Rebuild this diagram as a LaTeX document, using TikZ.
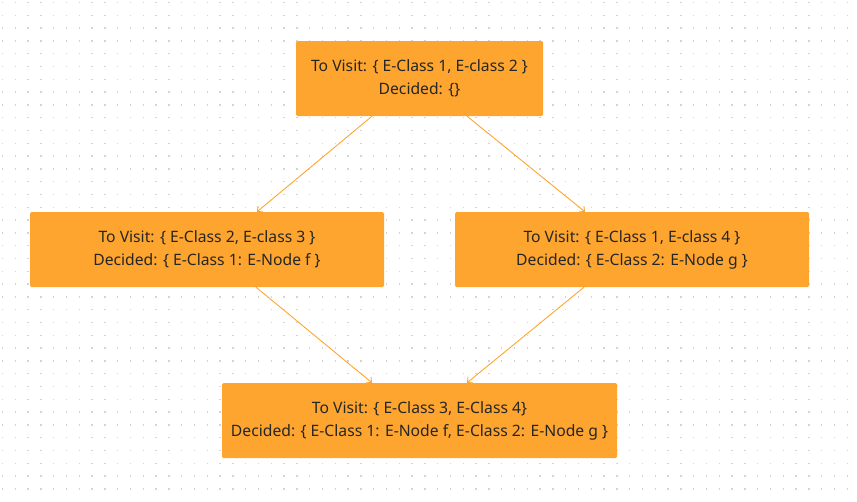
\documentclass[tikz,border=0pt]{standalone}
\usepackage{fontspec}
\setmainfont{Noto Sans}
\usetikzlibrary{positioning,arrows.meta}
\definecolor{boxorange}{HTML}{FEA530}
\definecolor{boxtext}{HTML}{262626}
\definecolor{griddot}{HTML}{D4D4D4}

\begin{document}
\begin{tikzpicture}[
  x=1pt, y=-1pt,
  block/.style={rectangle, rounded corners=1.5pt, fill=boxorange, text=boxtext, minimum height=75pt, align=center, font=\fontsize{15.7}{23}\selectfont, inner sep=0pt},
  arrow/.style={-{Straight Barb[length=4pt,width=8pt]}, draw=boxorange, line width=0.9pt}
]
\useasboundingbox (0,0) rectangle (857,501);

% Dot grid
\foreach \i in {0,...,66}
  \foreach \j in {0,...,38}
    \fill[griddot] (2.5+12.8*\i-0.75,2.5+12.8*\j-0.75) rectangle ++(1.5,1.5);

% Top row
\node[block, minimum width=247pt] (start) at (419.5,78.5) {To Visit: \{ E-Class 1, E-class 2 \}\\Decided: \{\}};

% Middle row
\node[block, minimum width=354pt] (pickf) at (207,249.5) {To Visit: \{ E-Class 2, E-class 3 \}\\Decided: \{ E-Class 1: E-Node f \}};
\node[block, minimum width=354pt] (pickg) at (632,249.5) {To Visit: \{ E-Class 1, E-class 4 \}\\Decided: \{ E-Class 2: E-Node g \}};

% Bottom row
\node[block, minimum width=395pt] (both) at (419.5,420.5) {To Visit: \{ E-Class 3, E-Class 4\}\\Decided: \{ E-Class 1: E-Node f, E-Class 2: E-Node g \}};

% Arrows
\draw[arrow] ([xshift=-47.5pt]start.south) -- ([xshift=50pt]pickf.north);
\draw[arrow] ([xshift=47.5pt]start.south) -- ([xshift=-47pt]pickg.north);
\draw[arrow] ([xshift=49pt]pickf.south) -- ([xshift=-47.5pt]both.north);
\draw[arrow] ([xshift=-48pt]pickg.south) -- ([xshift=47.5pt]both.north);

\end{tikzpicture}
\end{document}
